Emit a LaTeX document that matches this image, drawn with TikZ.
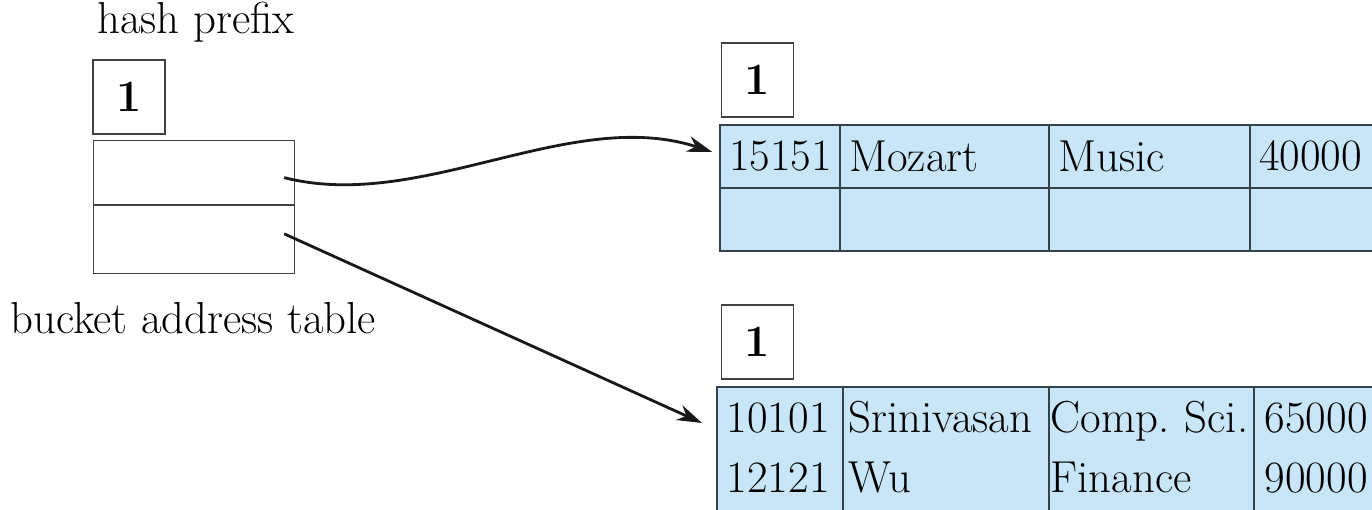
\documentclass[tikz,border=0pt]{standalone}
\usepackage{fontspec}
\usepackage{tikz}
\usetikzlibrary{arrows.meta, positioning}
\definecolor{hfill}{HTML}{C8E6F8}
\definecolor{hline}{HTML}{34424C}
\newcommand{\cellfont}{\fontsize{25.5}{34}\selectfont}
\tikzset{
  numbox/.style={draw=black!75, line width=0.7pt, minimum width=1.44cm,
                 minimum height=1.48cm, inner sep=0pt, font=\cellfont\bfseries},
  bcell/.style={draw=black!75, line width=0.7pt, minimum width=4.02cm,
                anchor=north west, inner sep=0pt},
  rcell/.style={draw=hline, fill=hfill, line width=0.9pt, anchor=north west,
                align=left, inner xsep=0.19cm, inner ysep=0pt, text width=#1},
  ptr/.style={-{Stealth[length=0.5cm,width=0.32cm,inset=0.16cm]}, line width=1.6pt, black!90},
}
\begin{document}
\begin{tikzpicture}[x=0.02cm, y=-0.02cm, font=\cellfont]
  \useasboundingbox (0,0) rectangle (1372,510);
  \clip (0,0) rectangle (1372,510);

  \node[anchor=base west, inner sep=0pt] (hashlbl) at (97,34) {hash prefix};
  \node[numbox] (pfx) at (129,97) {1};
  \node[bcell, minimum height=1.28cm] (bkt1) at (93,140) {};
  \node[bcell, minimum height=1.36cm, below=0pt of bkt1.south west, anchor=north west] (bkt2) {};
  \node[anchor=base west, inner sep=0pt] (bktlbl) at (10,333) {bucket address table};

  \node[numbox] (pfxa) at (757.5,80) {1};
  \node[rcell=2.02cm, minimum height=1.26cm] (ta11) at (719,124) {15151};
  \node[rcell=3.80cm, minimum height=1.26cm] (ta12) at (839,124) {Mozart};
  \node[rcell=3.64cm, minimum height=1.26cm] (ta13) at (1048,124) {Music};
  \node[rcell=3.62cm, minimum height=1.26cm] (ta14) at (1249,124) {40000};
  \node[rcell=2.02cm, minimum height=1.26cm] (ta21) at (719,187) {};
  \node[rcell=3.80cm, minimum height=1.26cm] (ta22) at (839,187) {};
  \node[rcell=3.64cm, minimum height=1.26cm] (ta23) at (1048,187) {};
  \node[rcell=3.62cm, minimum height=1.26cm] (ta24) at (1249,187) {};

  \node[numbox] (pfxb) at (757.5,342) {1};
  \node[rcell=2.12cm, inner xsep=0.2cm, minimum height=2.56cm] (tb1) at (716,386) {\strut10101\\\strut12121};
  \node[rcell=3.88cm, inner xsep=0.12cm, minimum height=2.56cm] (tb2) at (842,386) {\strut Srinivasan\\\strut Wu};
  \node[rcell=4.02cm, inner xsep=0.04cm, minimum height=2.56cm] (tb3) at (1048,386) {\strut Comp.\ Sci.\\\strut Finance};
  \node[rcell=3.56cm, inner xsep=0.22cm, minimum height=2.56cm] (tb4) at (1253,386) {\strut65000\\\strut90000};

  \draw[ptr] ([xshift=-0.22cm,yshift=-0.1cm]bkt1.east) .. controls +(137,35) and +(-142,-46) .. ([xshift=-0.14cm,yshift=0.09cm]ta11.west);
  \draw[ptr] ([xshift=-0.22cm,yshift=0.12cm]bkt2.east) -- ([xshift=-0.28cm,yshift=-0.74cm]tb1.north west);
\end{tikzpicture}
\end{document}
